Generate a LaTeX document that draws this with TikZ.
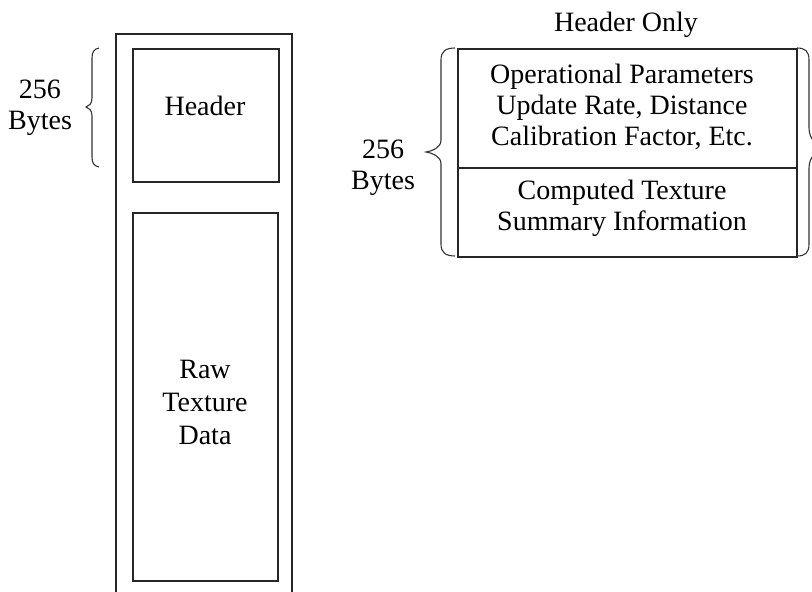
\documentclass[tikz,border=0pt]{standalone}
\usepackage{fontspec}
\setmainfont{Liberation Serif}
\begin{document}
\begin{tikzpicture}[x=1pt,y=-1pt,
  frame/.style={draw=black!85,line width=1.7pt},
  bracepen/.style={draw=black!80,line width=1.1pt},
  txt/.style={font=\fontsize{28}{31}\selectfont,align=center,inner sep=0pt},
  cell/.style={frame,inner sep=0pt}]
\useasboundingbox (0,0) rectangle (812,592);
\clip (0,0) rectangle (812,592);

% file layout: outer column, header block and raw data block
\draw[frame] (116,600) -- (116,34) -- (292,34) -- (292,600);
\node[cell,minimum width=146pt,minimum height=133pt,anchor=north west] (hdr) at (132,48) {};
\node[cell,minimum width=145pt,minimum height=368pt,anchor=north west] (raw) at (132,212) {};
\node[txt] (hdrtxt) at (205,106) {Header};
\node[txt,font=\fontsize{28}{33}\selectfont] (rawtxt) at (205,402) {Raw\\Texture\\Data};

% size of the header
\draw[bracepen] (99,48) .. controls (94,49) and (92,52) .. (92,58) -- (92,98)
  .. controls (92,104) and (89,106) .. (86,107)
  .. controls (89,108) and (92,110) .. (92,116) -- (92,157)
  .. controls (92,163) and (94,166) .. (99,167);
\node[txt] (lsize) at (40,108) {256\\Bytes};

% detail of the header
\node[txt] (title) at (626,25) {Header Only};
\node[cell,minimum width=339pt,minimum height=119pt,anchor=north west] (ops) at (457,48) {};
\node[cell,minimum width=339pt,minimum height=89pt,anchor=north west] (sum) at (457,167) {};
\node[txt] (opstxt) at (622,107) {Operational Parameters\\Update Rate, Distance\\Calibration Factor, Etc.};
\node[txt] (sumtxt) at (622,208) {Computed Texture\\Summary Information};

\draw[bracepen] (455,48) .. controls (446,48) and (441,51) .. (441,60) -- (441,140)
  .. controls (441,148) and (432,151) .. (426,152)
  .. controls (432,153) and (441,156) .. (441,164) -- (441,244)
  .. controls (441,253) and (446,256) .. (455,256);
\draw[bracepen] (797,48) .. controls (805,48) and (809,51) .. (809,60) -- (809,128)
  .. controls (809,140) and (818,146) .. (824,148)
  .. controls (818,150) and (809,156) .. (809,168) -- (809,244)
  .. controls (809,253) and (805,256) .. (797,256);
\node[txt] (rsize) at (383,168) {256\\Bytes};
\end{tikzpicture}
\end{document}
